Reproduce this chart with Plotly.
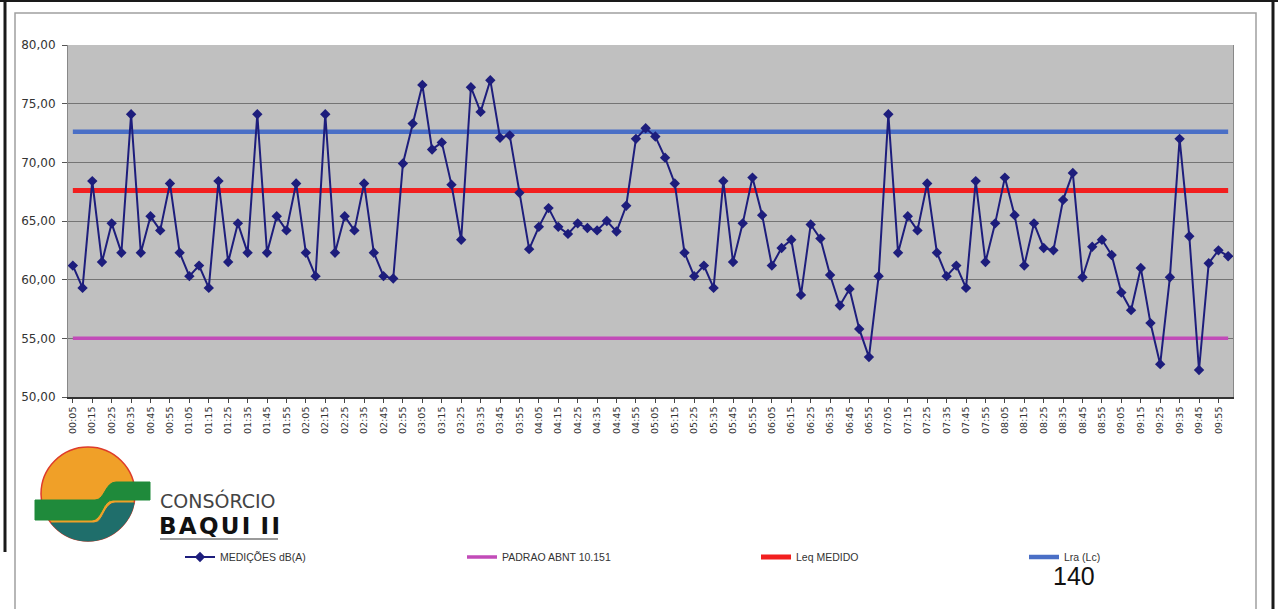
import numpy as np
import plotly.graph_objects as go

# ---------------- data ----------------
categories = [
    "00:05", "00:10", "00:15", "00:20", "00:25", "00:30", "00:35", "00:40", "00:45", "00:50", "00:55", "01:00",
    "01:05", "01:10", "01:15", "01:20", "01:25", "01:30", "01:35", "01:40", "01:45", "01:50", "01:55", "02:00",
    "02:05", "02:10", "02:15", "02:20", "02:25", "02:30", "02:35", "02:40", "02:45", "02:50", "02:55", "03:00",
    "03:05", "03:10", "03:15", "03:20", "03:25", "03:30", "03:35", "03:40", "03:45", "03:50", "03:55", "04:00",
    "04:05", "04:10", "04:15", "04:20", "04:25", "04:30", "04:35", "04:40", "04:45", "04:50", "04:55", "05:00",
    "05:05", "05:10", "05:15", "05:20", "05:25", "05:30", "05:35", "05:40", "05:45", "05:50", "05:55", "06:00",
    "06:05", "06:10", "06:15", "06:20", "06:25", "06:30", "06:35", "06:40", "06:45", "06:50", "06:55", "07:00",
    "07:05", "07:10", "07:15", "07:20", "07:25", "07:30", "07:35", "07:40", "07:45", "07:50", "07:55", "08:00",
    "08:05", "08:10", "08:15", "08:20", "08:25", "08:30", "08:35", "08:40", "08:45", "08:50", "08:55", "09:00",
    "09:05", "09:10", "09:15", "09:20", "09:25", "09:30", "09:35", "09:40", "09:45", "09:50", "09:55", "10:00",
]

medicoes_dba = [
    61.2, 59.3, 68.4, 61.5, 64.8, 62.3, 74.1, 62.3, 65.4, 64.2,
    68.2, 62.3, 60.3, 61.2, 59.3, 68.4, 61.5, 64.8, 62.3, 74.1,
    62.3, 65.4, 64.2, 68.2, 62.3, 60.3, 74.1, 62.3, 65.4, 64.2,
    68.2, 62.3, 60.3, 60.1, 69.9, 73.3, 76.6, 71.1, 71.7, 68.1,
    63.4, 76.4, 74.3, 77.0, 72.1, 72.3, 67.4, 62.6, 64.5, 66.1,
    64.5, 63.9, 64.8, 64.4, 64.2, 65.0, 64.1, 66.3, 72.0, 72.9,
    72.2, 70.4, 68.2, 62.3, 60.3, 61.2, 59.3, 68.4, 61.5, 64.8,
    68.7, 65.5, 61.2, 62.7, 63.4, 58.7, 64.7, 63.5, 60.4, 57.8,
    59.2, 55.8, 53.4, 60.3, 74.1, 62.3, 65.4, 64.2, 68.2, 62.3,
    60.3, 61.2, 59.3, 68.4, 61.5, 64.8, 68.7, 65.5, 61.2, 64.8,
    62.7, 62.5, 66.8, 69.1, 60.2, 62.8, 63.4, 62.1, 58.9, 57.4,
    61.0, 56.3, 52.8, 60.2, 72.0, 63.7, 52.3, 61.4, 62.5, 62.0,
]

padrao_abnt = 55.0
leq_medido = 67.6
lra_lc = 72.6

series_names = ["MEDIÇÕES dB(A)", "PADRAO ABNT 10.151", "Leq MEDIDO", "Lra (Lc)"]
tick_labels = categories[::2]
y_ticks = [50, 55, 60, 65, 70, 75, 80]

# ---------------- geometry helpers (decoration only) ----------------
W, H = 1278, 609
L, R, T, B = 68, 45, 45, 212
PW = W - L - R
PH = H - T - B


def px(x):
    return (x - L) / PW


def py(y):
    return (H - B - y) / PH


fig = go.Figure()

fig.add_trace(go.Scatter(
    x=categories, y=[padrao_abnt] * len(categories), mode="lines",
    name=series_names[1], line=dict(color="#c24bb8", width=3.5),
    legend="legend2", hoverinfo="skip"))
fig.add_trace(go.Scatter(
    x=categories, y=[leq_medido] * len(categories), mode="lines",
    name=series_names[2], line=dict(color="#f21f1f", width=5),
    legend="legend3", hoverinfo="skip"))
fig.add_trace(go.Scatter(
    x=categories, y=[lra_lc] * len(categories), mode="lines",
    name=series_names[3], line=dict(color="#4a6fc6", width=4.5),
    legend="legend4", hoverinfo="skip"))
fig.add_trace(go.Scatter(
    x=categories, y=medicoes_dba, mode="lines+markers",
    name=series_names[0], line=dict(color="#1d1d7c", width=2),
    marker=dict(symbol="diamond", size=8, color="#1d1d7c"),
    legend="legend"))

leg_font = dict(family="Liberation Sans, Arial, sans-serif", size=10.5, color="#333333")
leg_y = py(557)


def leg(xpix):
    return dict(x=px(xpix), y=leg_y, xanchor="left", yanchor="middle",
                orientation="h", bgcolor="rgba(0,0,0,0)", font=leg_font,
                borderwidth=0, itemwidth=30)


# ---------------- decoration shapes ----------------
shapes = []
frame_dark = "#1a1a1a"
shapes.append(dict(type="line", xref="paper", yref="paper", x0=px(0), x1=px(W), y0=py(1), y1=py(1),
                   line=dict(color=frame_dark, width=2), layer="above"))
shapes.append(dict(type="line", xref="paper", yref="paper", x0=px(5), x1=px(5), y0=py(0), y1=py(552),
                   line=dict(color=frame_dark, width=3), layer="above"))
shapes.append(dict(type="line", xref="paper", yref="paper", x0=px(1273), x1=px(1273), y0=py(0), y1=py(H + 5),
                   line=dict(color=frame_dark, width=3), layer="above"))
shapes.append(dict(type="rect", xref="paper", yref="paper", x0=px(15), x1=px(1256), y0=py(13), y1=py(H + 10),
                   line=dict(color="#a0a0a0", width=1.5), fillcolor="rgba(0,0,0,0)", layer="above"))

# logo: circle
cx, cy, r = 88, 494, 47
shapes.append(dict(type="circle", xref="paper", yref="paper",
                   x0=px(cx - r), x1=px(cx + r), y0=py(cy + r), y1=py(cy - r),
                   fillcolor="#f0a028", line=dict(color="#de3b2a", width=1.5), layer="above"))

# teal lower region (below orange stripe)
a1 = np.arctan2(503 - cy, np.sqrt(r ** 2 - (503 - cy) ** 2))
a2 = np.pi - np.arctan2(523 - cy, np.sqrt(r ** 2 - (523 - cy) ** 2))
angs = np.linspace(a1, a2, 40)
xl = cx - np.sqrt(r ** 2 - (523 - cy) ** 2)
xr = cx + np.sqrt(r ** 2 - (503 - cy) ** 2)
p = f"M{px(xl)},{py(523)} L{px(94)},{py(523)} C{px(104)},{py(523)} {px(104)},{py(503)} {px(115)},{py(503)} L{px(xr)},{py(503)}"
for a in angs:
    p += f" L{px(cx + r * np.cos(a))},{py(cy + r * np.sin(a))}"
p += " Z"
shapes.append(dict(type="path", xref="paper", yref="paper", path=p,
                   fillcolor="#1f6e6b", line=dict(color="#1f6e6b", width=1), layer="above"))

# green band
gp = (f"M{px(35)},{py(500)} L{px(95)},{py(500)} C{px(105)},{py(500)} {px(105)},{py(482)} {px(116)},{py(482)} "
      f"L{px(150)},{py(482)} L{px(150)},{py(500)} L{px(113)},{py(500)} "
      f"C{px(102)},{py(500)} {px(102)},{py(520)} {px(92)},{py(520)} L{px(35)},{py(520)} Z")
shapes.append(dict(type="path", xref="paper", yref="paper", path=gp,
                   fillcolor="#1f8a3b", line=dict(color="#1f8a3b", width=1), layer="above"))

# underline under logo text
shapes.append(dict(type="line", xref="paper", yref="paper", x0=px(160), x1=px(278), y0=py(539), y1=py(539),
                   line=dict(color="#9a9a9a", width=2), layer="above"))

hs = "\u200a"
baqui_text = "<b>" + hs.join("BAQUI") + " " + hs + hs.join("II") + "</b>"

annotations = [
    dict(text="CONSÓRCIO", xref="paper", yref="paper", x=px(159), y=py(513), xanchor="left", yanchor="bottom",
         showarrow=False, borderpad=0,
         font=dict(family="DejaVu Sans, sans-serif", size=19, color="#444444")),
    dict(text=baqui_text, xref="paper", yref="paper", x=px(158), y=py(512), xanchor="left",
         yanchor="top", showarrow=False, borderpad=0,
         font=dict(family="DejaVu Sans, sans-serif", size=23, color="#111111")),
    dict(text="140", xref="paper", yref="paper", x=px(1074), y=py(576), xanchor="center", yanchor="middle",
         showarrow=False, font=dict(family="Liberation Sans, Arial, sans-serif", size=25, color="#111111")),
]

fig.update_layout(
    width=W, height=H,
    margin=dict(l=L, r=R, t=T, b=B),
    paper_bgcolor="white",
    plot_bgcolor="#c0c0c0",
    separators=",.",
    showlegend=True,
    legend=leg(180),
    legend2=leg(462),
    legend3=leg(756),
    legend4=leg(1024),
    shapes=shapes,
    annotations=annotations,
    xaxis=dict(
        type="category",
        range=[-0.5, len(categories) - 0.5],
        tickmode="array", tickvals=tick_labels, ticktext=tick_labels,
        tickangle=-90,
        tickfont=dict(family="DejaVu Sans, sans-serif", size=9.5, color="#333333"),
        ticks="outside", ticklen=4, tickcolor="#444444",
        showline=True, linecolor="#333333", linewidth=1.5,
        showgrid=False, zeroline=False,
    ),
    yaxis=dict(
        range=[50, 80],
        tickmode="array", tickvals=y_ticks,
        tickformat=".2f",
        tickfont=dict(family="DejaVu Sans, sans-serif", size=12, color="#333333"),
        ticks="outside", ticklen=5, tickcolor="#555555",
        ticklabelstandoff=4,
        showline=True, linecolor="#888888", linewidth=1, mirror=True,
        showgrid=True, gridcolor="#747474", gridwidth=1,
        zeroline=False,
    ),
)

fig.write_html("out.html", config={"displayModeBar": False},
               post_script="document.body.style.margin='0';")
